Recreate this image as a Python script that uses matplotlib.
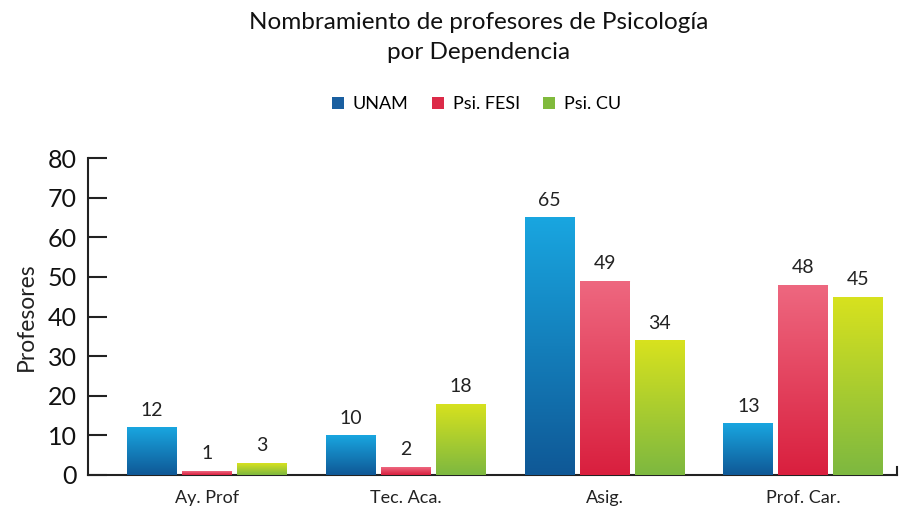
import numpy as np
import matplotlib
matplotlib.use("Agg")
import matplotlib.pyplot as plt
from matplotlib.colors import LinearSegmentedColormap
from matplotlib.patches import Patch

plt.rcParams['font.family'] = ['Lato', 'DejaVu Sans']

categories = ["Ay. Prof", "Tec. Aca.", "Asig.", "Prof. Car."]
series_names = ["UNAM", "Psi. FESI", "Psi. CU"]
unam = [12, 10, 65, 13]
fesi = [1, 2, 49, 48]
cu = [3, 18, 34, 45]
yticks = [0, 10, 20, 30, 40, 50, 60, 70, 80]

title = "Nombramiento de profesores de Psicología\npor Dependencia"
ylabel = "Profesores"

legend_colors = ["#1a5fa0", "#dc2a48", "#80ba3c"]
grad_top = ["#19a6e0", "#ee6880", "#d8e21e"]
grad_bot = ["#0f5896", "#d91f3e", "#7db840"]

fig = plt.figure(figsize=(9.04, 5.12), dpi=100)
ax = fig.add_axes([0.0973, 0.0723, 0.895, 0.619])

n = len(categories)
x = np.arange(n)
bw = 0.2515
step = 0.2767
offsets = [-step, 0, step]
all_series = [unam, fesi, cu]

for s, (vals, off) in enumerate(zip(all_series, offsets)):
    cmap = LinearSegmentedColormap.from_list(f"g{s}", [grad_bot[s], grad_top[s]])
    bars = ax.bar(x + off, vals, width=bw, color=legend_colors[s],
                  edgecolor="white", linewidth=0.8, zorder=2)
    for b, v in zip(bars, vals):
        x0 = b.get_x()
        w = b.get_width()
        h = b.get_height()
        grad = np.linspace(0, 1, 256).reshape(-1, 1)
        im = ax.imshow(grad, extent=[x0, x0 + w, 0, h], origin="lower",
                       cmap=cmap, aspect="auto", zorder=3)
        im.set_clip_path(b)
        ax.text(x0 + w / 2, h + 2.2, str(v), ha="center", va="bottom",
                fontsize=14, color="#222222", zorder=4)

ax.set_xlim(-0.599, 3.471)
ax.set_ylim(0, 80)
ax.set_xticks(x)
ax.set_xticklabels(categories, fontsize=13, color="#222222")
ax.tick_params(axis="x", length=0, pad=11)
ax.set_yticks(yticks)
ax.set_yticklabels([str(t) for t in yticks], fontsize=18, color="#111111")
ax.tick_params(axis="y", direction="in", length=14, width=1.5, pad=8, color="#222222")

for sp in ["top", "right"]:
    ax.spines[sp].set_visible(False)
for sp in ["left", "bottom"]:
    ax.spines[sp].set_linewidth(1.5)
    ax.spines[sp].set_color("#222222")

ax.plot([1, 1], [0, 0.025], transform=ax.transAxes, color="#222222",
        lw=1.5, clip_on=False)

ax.set_ylabel(ylabel, fontsize=16.5, color="#222222", labelpad=8)

fig.text(0.529, 0.977, title, ha="center", va="top", fontsize=17.5,
         color="#111111", linespacing=1.55)

handles = [Patch(facecolor=c, edgecolor="none") for c in legend_colors]
fig.legend(handles, series_names, loc="center", bbox_to_anchor=(0.527, 0.797),
           ncol=3, frameon=False, fontsize=13, handlelength=0.65,
           handleheight=0.65, columnspacing=1.3, handletextpad=0.5)

fig.savefig("out.png", dpi=100, facecolor="white")
